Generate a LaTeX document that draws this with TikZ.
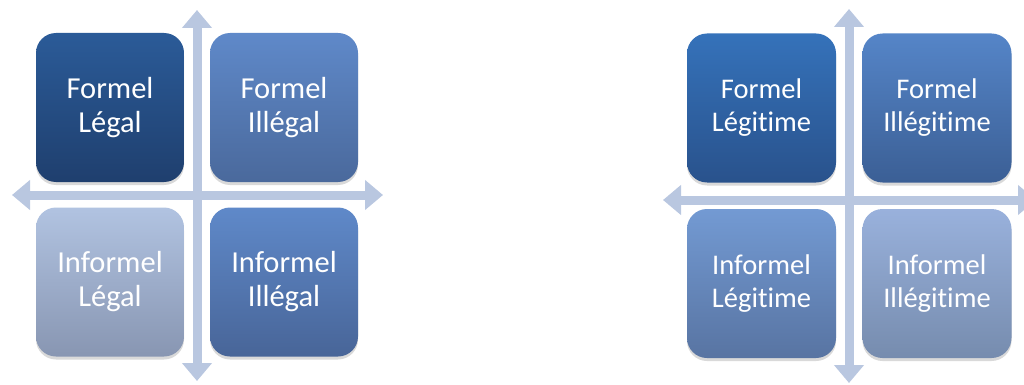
\documentclass[tikz,border=0pt]{standalone}
\usepackage{fontspec}
\setmainfont{Carlito}[Ligatures={NoCommon,NoDiscretionary}]
\usetikzlibrary{arrows.meta,shadows}
\definecolor{axisc}{HTML}{B9C7E0}
\definecolor{aT}{HTML}{2B5B98}\definecolor{aB}{HTML}{1F3F6E}
\definecolor{bT}{HTML}{5F89C9}\definecolor{bB}{HTML}{4A699C}
\definecolor{cT}{HTML}{B1C3E1}\definecolor{cB}{HTML}{8896B2}
\definecolor{dT}{HTML}{5F89C9}\definecolor{dB}{HTML}{486598}
\definecolor{eT}{HTML}{3572BA}\definecolor{eB}{HTML}{29528C}
\definecolor{fT}{HTML}{5585C8}\definecolor{fB}{HTML}{3B5F95}
\definecolor{gT}{HTML}{739AD3}\definecolor{gB}{HTML}{5874A2}
\definecolor{hT}{HTML}{99B1DC}\definecolor{hB}{HTML}{768CAE}
\tikzset{
  quad/.style={rounded corners=20pt, minimum width=148pt, minimum height=149pt,
    inner sep=0pt, text=white, align=center,
    drop shadow={shadow xshift=0pt, shadow yshift=-3pt, opacity=0.25, fill=black!60}},
  lfont/.style={font=\fontsize{30.5}{34}\selectfont},
  rfont/.style={font=\fontsize{28.5}{33}\selectfont},
  axis/.style={draw=axisc, line width=9pt, {Triangle[width=29pt,length=18pt]}-{Triangle[width=29pt,length=18pt]}}
}
\begin{document}
\begin{tikzpicture}[x=1pt,y=-1pt]
\useasboundingbox (0,0) rectangle (1024,385);
\clip (0,0) rectangle (1024,385);
% left axes
\coordinate (lt) at (197,10);
\coordinate (lb) at (197,381);
\coordinate (ll) at (12,195);
\coordinate (lr) at (383,195);
\draw[axis] (ll) -- (lr);
\draw[axis] (lt) -- (lb);
% right axes
\coordinate (rt) at (849,9);
\coordinate (rb) at (849,383);
\coordinate (rl) at (663,200);
\coordinate (rr) at (1036,200);
\draw[axis] (rl) -- (rr);
\draw[axis] (rt) -- (rb);
% left boxes
\node[quad, lfont, top color=aT, bottom color=aB] (fl) at (110,107.5) {Formel\\Légal};
\node[quad, lfont, top color=bT, bottom color=bB] (fi) at (284,107.5) {Formel\\Illégal};
\node[quad, lfont, top color=cT, bottom color=cB] (il) at (110,282) {Informel\\Légal};
\node[quad, lfont, top color=dT, bottom color=dB] (ii) at (284,282) {Informel\\Illégal};
% right boxes
\node[quad, rfont, minimum width=149pt, top color=eT, bottom color=eB] (flg) at (761.5,108) {Formel\\Légitime};
\node[quad, rfont, minimum width=149pt, top color=fT, bottom color=fB] (fig) at (937,108) {Formel\\Illégitime};
\node[quad, rfont, minimum width=149pt, top color=gT, bottom color=gB] (ilg) at (761.5,283.5) {Informel\\Légitime};
\node[quad, rfont, minimum width=149pt, top color=hT, bottom color=hB] (iig) at (937,283.5) {Informel\\Illégitime};
\end{tikzpicture}
\end{document}
